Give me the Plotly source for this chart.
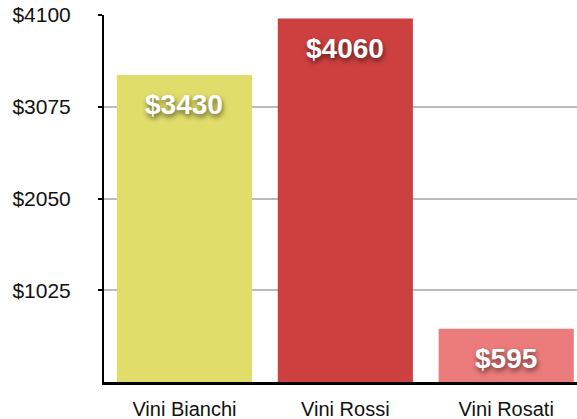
import plotly.graph_objects as go

categories = ["Vini Bianchi", "Vini Rossi", "Vini Rosati"]
values = [3430, 4060, 595]
bar_colors = ["#E0DD6A", "#CC4140", "#EC7B7B"]
tick_vals = [1025, 2050, 3075, 4100]
tick_text = ["$1025", "$2050", "$3075", "$4100"]

fig = go.Figure()
fig.add_trace(go.Bar(
    x=categories, y=values, marker_color=bar_colors, marker_line_width=0,
    width=0.84, hoverinfo="skip",
))
for c, v in zip(categories, values):
    fig.add_annotation(
        x=c, y=v, text=f"${v}", showarrow=False, yanchor="middle", yshift=-30,
        font=dict(family="Liberation Sans, Arial, sans-serif", size=28, color="white",
                  weight="bold", shadow="1px 3px 5px rgba(0,0,0,0.55)"),
    )

fig.update_layout(
    width=577, height=419,
    margin=dict(l=104, r=0, t=15, b=37),
    plot_bgcolor="white", paper_bgcolor="white",
    showlegend=False,
    font=dict(family="Liberation Sans, Arial, sans-serif", size=20, color="#111"),
    xaxis=dict(
        range=[-0.5, 2.44], showline=True, linecolor="black", linewidth=3,
        ticks="", showgrid=False, ticklabelstandoff=7, fixedrange=True,
        tickfont=dict(size=20),
    ),
    yaxis=dict(
        range=[0, 4100], tickvals=tick_vals, ticktext=tick_text,
        showline=True, linecolor="black", linewidth=2,
        ticks="outside", ticklen=4, tickwidth=2, tickcolor="black",
        showgrid=True, gridcolor="#BBBBBB", gridwidth=2,
        ticklabelstandoff=23, zeroline=False, fixedrange=True,
        tickfont=dict(size=21),
    ),
)
fig.write_html(
    "out.html",
    config={"displayModeBar": False},
    post_script="document.body.style.margin='0';document.body.style.overflow='hidden';",
)
